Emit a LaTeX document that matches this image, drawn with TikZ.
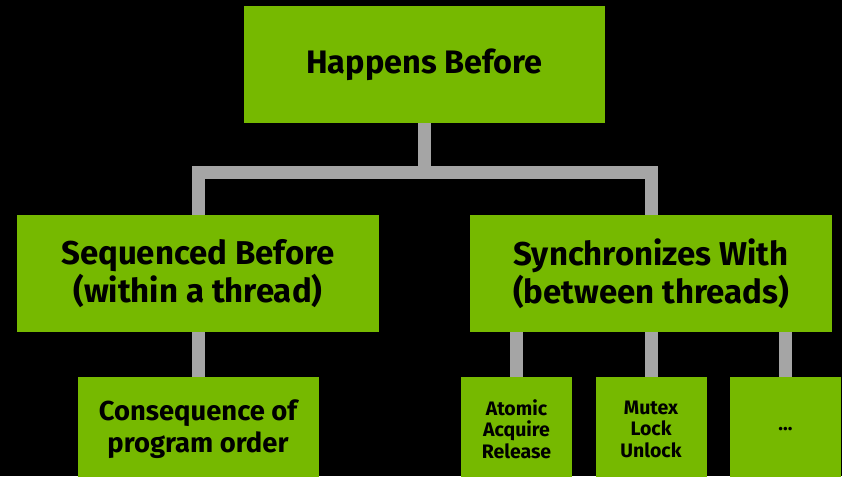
\documentclass[tikz,border=0pt]{standalone}
\usepackage{fontspec}
\setmainfont{Fira Sans}
\usepackage{xcolor}
\definecolor{nvgreen}{HTML}{76B900}
\definecolor{linkgray}{HTML}{A5A5A5}

\begin{document}
\begin{tikzpicture}[x=1pt, y=1pt,
  box/.style={rectangle, fill=nvgreen, text=black, inner sep=0pt, align=center, font=\bfseries},
  topbox/.style={box, minimum width=361pt, minimum height=117pt, font=\bfseries\fontsize{32.5}{38}\selectfont},
  midbox/.style={box, minimum width=362pt, minimum height=117pt, font=\bfseries\fontsize{33}{38}\selectfont},
  widebox/.style={box, minimum width=241pt, minimum height=104pt, font=\bfseries\fontsize{27.4}{32}\selectfont},
  leafbox/.style={box, minimum width=111pt, minimum height=104pt, font=\bfseries\fontsize{19.5}{21.5}\selectfont},
  link/.style={draw=linkgray, line width=13pt, line join=miter}]
\useasboundingbox (0,0) rectangle (842,476);
\clip (0,0) rectangle (842,476);
\fill[black] (0,0) rectangle (842,476);

\node[topbox] (hb) at (424.5,411.7) {Happens Before};
\node[midbox] (sb) at (198,202.5) {Sequenced Before\\(within a thread)};
\node[midbox] (sw) at (651,202.5) {Synchronizes With\\(between threads)};
\node[widebox] (cpo) at (198,47) {Consequence of\\program order};
\node[leafbox] (aar) at (516.5,47) {Atomic\\Acquire\\Release};
\node[leafbox] (mlu) at (651,47) {Mutex\\Lock\\Unlock};
\node[leafbox] (etc) at (785.5,47) {...};
\coordinate (fork) at (424.5,303.5);

\draw[link] (hb.south) -- (fork) -| (sb.north);
\draw[link] (fork) -| (sw.north);
\draw[link] (sb.south) -- (cpo.north);
\draw[link] (aar.north |- sw.south) -- (aar.north);
\draw[link] (sw.south) -- (mlu.north);
\draw[link] (etc.north |- sw.south) -- (etc.north);
\end{tikzpicture}
\end{document}
